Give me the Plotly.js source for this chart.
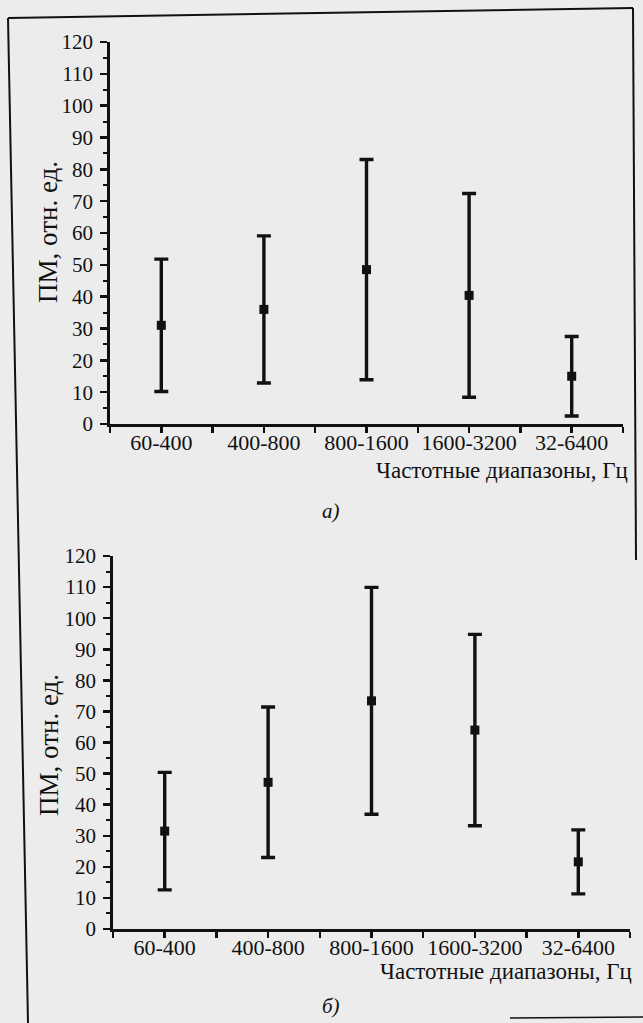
<!DOCTYPE html>
<html>
<head>
<meta charset="utf-8">
<script src="https://cdn.plot.ly/plotly-3.0.1.min.js"></script>
<style>html,body{margin:0;padding:0;background:#ececec;}#chart{width:643px;height:1023px;}</style>
</head>
<body>
<div id="chart"></div>
<script>
// Data
var categories = ['60-400', '400-800', '800-1600', '1600-3200', '32-6400'];
var positions = [1, 2, 3, 4, 5];
var meanA = [31, 36, 48.5, 40.4, 15];
var errA = [20.8, 23.1, 34.6, 32, 12.5];
var meanB = [31.5, 47.2, 73.4, 64, 21.6];
var errB = [18.9, 24.2, 36.5, 30.8, 10.3];
var yTicks = [0, 10, 20, 30, 40, 50, 60, 70, 80, 90, 100, 110, 120];

var W = 643, H = 1023;
function px(x) { return x / W; }
function py(y) { return 1 - y / H; }

var FONT = '"Liberation Serif", "Times New Roman", serif';
var INK = '#111111';

function errTrace(mean, err, xa, ya) {
  return {
    x: positions, y: mean, xaxis: xa, yaxis: ya,
    type: 'scatter', mode: 'markers',
    marker: {symbol: 'square', size: 9, color: INK},
    error_y: {type: 'data', array: err, visible: true, thickness: 3.4, width: 7, color: INK},
    showlegend: false, hoverinfo: 'skip'
  };
}

function xAxis(domain, anchor) {
  return {
    domain: domain, anchor: anchor, range: [0.5, 5.5],
    tickmode: 'array', tickvals: positions, ticktext: categories,
    ticks: 'outside', ticklen: 6, tickwidth: 2.5, tickcolor: INK,
    minor: {dtick: 0.5, tick0: 0.5, ticks: 'outside', ticklen: 6, tickwidth: 2.5, tickcolor: INK},
    showline: true, linewidth: 2.8, linecolor: INK,
    showgrid: false, zeroline: false, fixedrange: true,
    ticklabelstandoff: -9,
    tickfont: {family: FONT, size: 22, color: INK}
  };
}
function yAxis(domain, anchor) {
  return {
    domain: domain, anchor: anchor, range: [0, 120],
    tickmode: 'array', tickvals: yTicks,
    ticks: 'outside', ticklen: 7, tickwidth: 2.5, tickcolor: INK,
    minor: {dtick: 5, tick0: 0, ticks: 'outside', ticklen: 4, tickwidth: 2, tickcolor: INK},
    showline: true, linewidth: 2.8, linecolor: INK,
    showgrid: false, zeroline: false, fixedrange: true,
    ticklabelstandoff: 3,
    tickfont: {family: FONT, size: 21, color: INK}
  };
}

var data = [errTrace(meanA, errA, 'x', 'y'), errTrace(meanB, errB, 'x2', 'y2')];

var layout = {
  width: W, height: H,
  margin: {l: 0, r: 0, t: 0, b: 0},
  paper_bgcolor: '#ececec', plot_bgcolor: 'rgba(0,0,0,0)',
  xaxis: xAxis([px(110), px(623)], 'y'),
  yaxis: yAxis([py(424), py(42)], 'x'),
  xaxis2: xAxis([px(113), px(630)], 'y2'),
  yaxis2: yAxis([py(929), py(556)], 'x2'),
  shapes: [
    {type: 'line', xref: 'paper', yref: 'paper', x0: px(8), y0: py(18), x1: px(633), y1: py(8), line: {color: INK, width: 2}},
    {type: 'line', xref: 'paper', yref: 'paper', x0: px(8), y0: py(18), x1: px(28), y1: py(1023), line: {color: INK, width: 2}},
    {type: 'line', xref: 'paper', yref: 'paper', x0: px(633), y0: py(8), x1: px(636), y1: py(560), line: {color: INK, width: 2}},
    {type: 'line', xref: 'paper', yref: 'paper', x0: px(510), y0: py(1018), x1: px(643), y1: py(1017), line: {color: INK, width: 1.5}}
  ],
  annotations: [
    {xref: 'paper', yref: 'paper', x: px(48), y: py(232), text: 'ПМ, отн. ед.', textangle: -90, showarrow: false,
     font: {family: FONT, size: 27, color: INK}, xanchor: 'center', yanchor: 'middle'},
    {xref: 'paper', yref: 'paper', x: px(49), y: py(745), text: 'ПМ, отн. ед.', textangle: -90, showarrow: false,
     font: {family: FONT, size: 27, color: INK}, xanchor: 'center', yanchor: 'middle'},
    {xref: 'paper', yref: 'paper', x: px(630), y: py(470), text: 'Частотные диапазоны, Гц', showarrow: false,
     font: {family: FONT, size: 23, color: INK}, xanchor: 'right', yanchor: 'middle'},
    {xref: 'paper', yref: 'paper', x: px(634), y: py(971), text: 'Частотные диапазоны, Гц', showarrow: false,
     font: {family: FONT, size: 23, color: INK}, xanchor: 'right', yanchor: 'middle'},
    {xref: 'paper', yref: 'paper', x: px(331), y: py(511), text: '<i>а)</i>', showarrow: false,
     font: {family: FONT, size: 21, color: INK}, xanchor: 'center', yanchor: 'middle'},
    {xref: 'paper', yref: 'paper', x: px(331), y: py(1006), text: '<i>б)</i>', showarrow: false,
     font: {family: FONT, size: 21, color: INK}, xanchor: 'center', yanchor: 'middle'}
  ]
};

Plotly.newPlot('chart', data, layout, {staticPlot: true, displayModeBar: false});
</script>
</body>
</html>
